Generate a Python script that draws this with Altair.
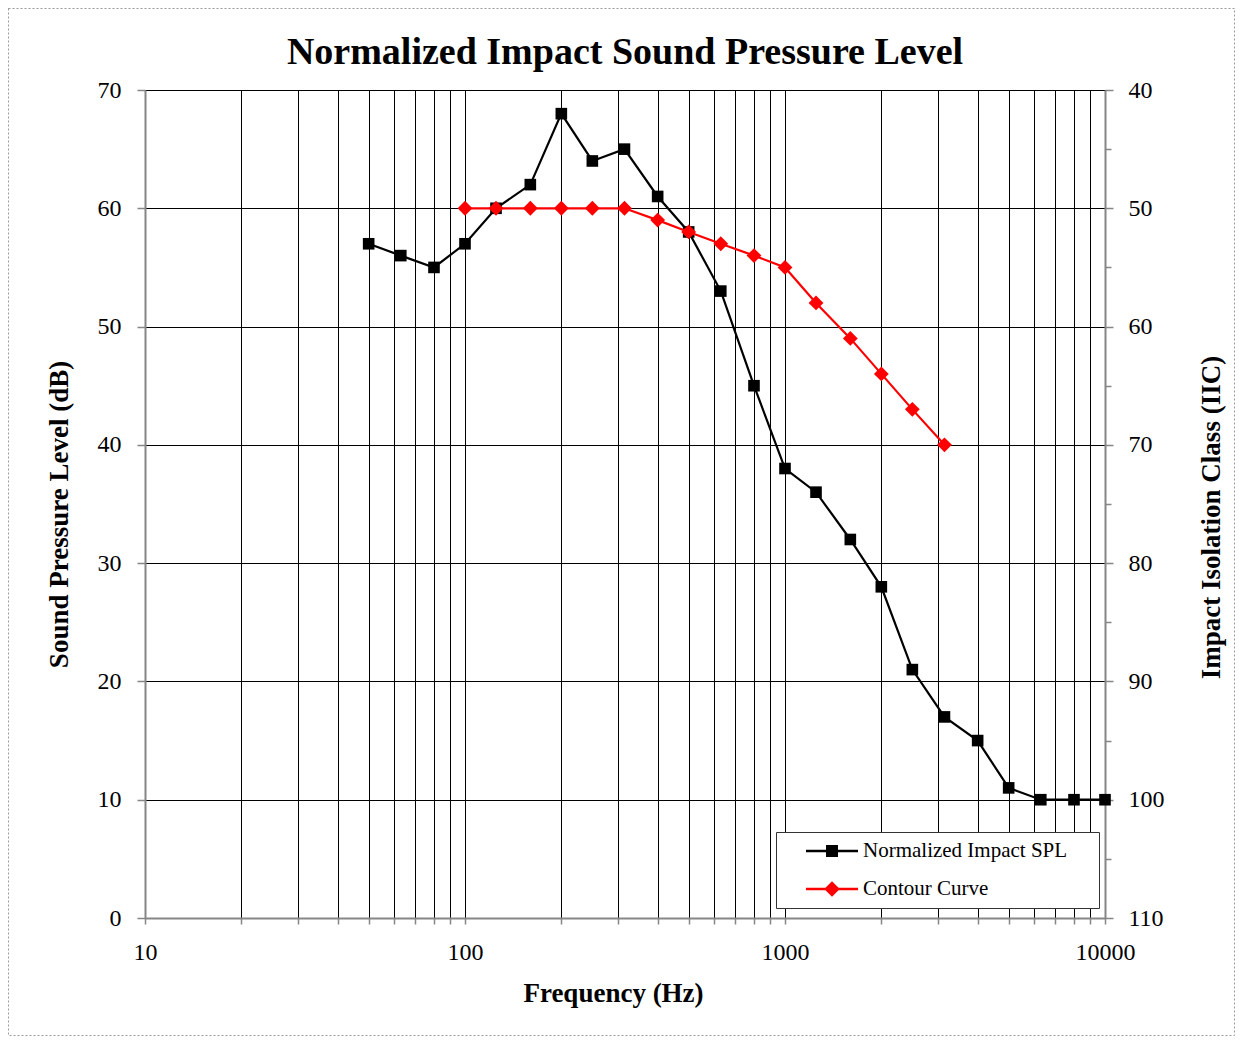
import altair as alt
import pandas as pd

# ---------------- data ----------------
freq_spl = [50, 63, 80, 100, 125, 160, 200, 250, 315, 400, 500, 630, 800,
            1000, 1250, 1600, 2000, 2500, 3150, 4000, 5000, 6300, 8000, 10000]
spl_values = [57, 56, 55, 57, 60, 62, 68, 64, 65, 61, 58, 53, 45,
              38, 36, 32, 28, 21, 17, 15, 11, 10, 10, 10]
freq_contour = [100, 125, 160, 200, 250, 315, 400, 500, 630, 800,
                1000, 1250, 1600, 2000, 2500, 3150]
contour_values = [60, 60, 60, 60, 60, 60, 59, 58, 57, 56,
                  55, 52, 49, 46, 43, 40]
series_names = ["Normalized Impact SPL", "Contour Curve"]
series_colors = ["#000000", "#ff0000"]

x_grid_values = [10, 20, 30, 40, 50, 60, 70, 80, 90,
                 100, 200, 300, 400, 500, 600, 700, 800, 900,
                 1000, 2000, 3000, 4000, 5000, 6000, 7000, 8000, 9000, 10000]
x_label_values = [10, 100, 1000, 10000]
left_ticks = [0, 10, 20, 30, 40, 50, 60, 70]
right_ticks = [40, 45, 50, 55, 60, 65, 70, 75, 80, 85, 90, 95, 100, 105, 110]

FONT = "Liberation Serif"
GRAY = "#868686"

spl_df = pd.DataFrame({"freq": freq_spl, "level": spl_values, "series": series_names[0]})
contour_df = pd.DataFrame({"freq": freq_contour, "level": contour_values, "series": series_names[1]})
legend_df = pd.DataFrame({"freq": [freq_spl[0], freq_contour[0]],
                          "level": [spl_values[0], contour_values[0]],
                          "series": series_names})
right_df = pd.DataFrame({"iic": right_ticks})

label_list = ",".join(str(v) for v in x_label_values)

x_enc = alt.X(
    "freq:Q",
    scale=alt.Scale(type="log", domain=[10, 10000], nice=False),
    axis=alt.Axis(
        values=x_grid_values,
        labelExpr=f"indexof([{label_list}], datum.value) >= 0 ? format(datum.value, 'd') : ''",
        labelFlush=False, labelOverlap=False, labelBound=False,
        grid=True, gridColor="#000000", gridWidth=1,
        tickSize=6, tickColor=GRAY, tickWidth=1.5,
        domainColor=GRAY, domainWidth=2,
        labelFont=FONT, labelFontSize=24, labelPadding=16, labelColor="#000000",
        title="Frequency (Hz)", titleFont=FONT, titleFontSize=27, titleFontWeight="bold",
        titleColor="#000000",
        titleX=468, titleY=83, titleAlign="center", titleBaseline="alphabetic",
    ),
)

y_enc = alt.Y(
    "level:Q",
    scale=alt.Scale(domain=[0, 70], nice=False, zero=False),
    axis=alt.Axis(
        values=left_ticks,
        grid=True, gridColor="#000000", gridWidth=1,
        tickSize=8, tickColor=GRAY, tickWidth=1.5,
        domainColor=GRAY, domainWidth=2,
        labelFont=FONT, labelFontSize=24, labelPadding=16, labelColor="#000000",
        title="Sound Pressure Level (dB)", titleFont=FONT, titleFontSize=27,
        titleFontWeight="bold", titleColor="#000000",
        titleX=-78, titleY=424, titleAngle=270, titleAlign="center",
        titleBaseline="alphabetic",
    ),
)

spl_line = alt.Chart(spl_df).mark_line(color=series_colors[0], strokeWidth=2.2).encode(x=x_enc, y=y_enc)
spl_pts = alt.Chart(spl_df).mark_point(shape="square", filled=True, size=135, opacity=1,
                                        color=series_colors[0]).encode(x=x_enc, y=y_enc)
con_line = alt.Chart(contour_df).mark_line(color=series_colors[1], strokeWidth=2.2).encode(x=x_enc, y=y_enc)
con_pts = alt.Chart(contour_df).mark_point(shape="diamond", filled=True, size=220, opacity=1,
                                            color=series_colors[1]).encode(x=x_enc, y=y_enc)

path_sq = "M-1,-0.045H1V0.045H-1Z M-0.23,-0.23H0.23V0.23H-0.23Z"
path_dia = "M-1,-0.045H1V0.045H-1Z M0,-0.3L0.3,0L0,0.3L-0.3,0Z"

legend = alt.Legend(
    orient="none", legendX=631, legendY=742,
    title="\u00a0", titleOrient="right", titlePadding=26, titleFontSize=21,
    fillColor="#ffffff", strokeColor="#333333", padding=6,
    symbolSize=2704, symbolStrokeWidth=0, symbolOffset=24, symbolOpacity=1,
    labelOffset=5, labelFont=FONT, labelFontSize=21, labelColor="#000000",
    labelLimit=400, clipHeight=26, rowPadding=12,
)

legend_layer = alt.Chart(legend_df).mark_point(filled=True, opacity=0).encode(
    x=x_enc, y=y_enc,
    color=alt.Color("series:N", scale=alt.Scale(domain=series_names, range=series_colors),
                    legend=legend, sort=series_names),
    shape=alt.Shape("series:N", scale=alt.Scale(domain=series_names, range=[path_sq, path_dia]),
                    legend=legend, sort=series_names),
)

frame = alt.Chart(pd.DataFrame({"k": [0]})).mark_rect(
    fill="transparent", stroke="#9a9a9a", strokeWidth=1, strokeDash=[2, 2]
).encode(x=alt.value(-136.5), x2=alt.value(1089.5), y=alt.value(-81.5), y2=alt.value(945.5))

left = alt.layer(frame, spl_line, spl_pts, con_line, con_pts, legend_layer)

right = alt.Chart(right_df).mark_point(opacity=0).encode(
    y=alt.Y(
        "iic:Q",
        scale=alt.Scale(domain=[40, 110], reverse=True, nice=False, zero=False),
        axis=alt.Axis(
            orient="right", values=right_ticks,
            labelExpr="datum.value % 10 === 0 ? datum.label : ''",
            tickSize={"condition": {"test": "datum.value % 10 === 0", "value": 8}, "value": 6},
            tickColor=GRAY, tickWidth=1.5, grid=False,
            domainColor=GRAY, domainWidth=2,
            labelFont=FONT, labelFontSize=24, labelPadding=15, labelColor="#000000",
            title="Impact Isolation Class (IIC)", titleFont=FONT, titleFontSize=27,
            titleFontWeight="bold", titleColor="#000000",
            titleX=114, titleY=427, titleAngle=270, titleAlign="center",
            titleBaseline="alphabetic",
        ),
    )
)

chart = alt.layer(left, right).resolve_scale(y="independent").properties(
    width=960, height=828,
    autosize=alt.AutoSizeParams(type="none"),
    padding={"left": 137, "top": 82, "right": 130, "bottom": 118},
    title=alt.TitleParams(
        "Normalized Impact Sound Pressure Level",
        font=FONT, fontSize=38, fontWeight="bold", color="#000000",
        anchor="middle", frame="group", offset=27, baseline="alphabetic", dy=121,
    ),
).configure_axis(
    labelFont=FONT, titleFont=FONT, labelColor="#000000", titleColor="#000000",
).configure_view(
    stroke=GRAY, strokeWidth=2,
).configure(background="#ffffff")

chart.save("out.html", embed_options={"renderer": "svg", "actions": False})
